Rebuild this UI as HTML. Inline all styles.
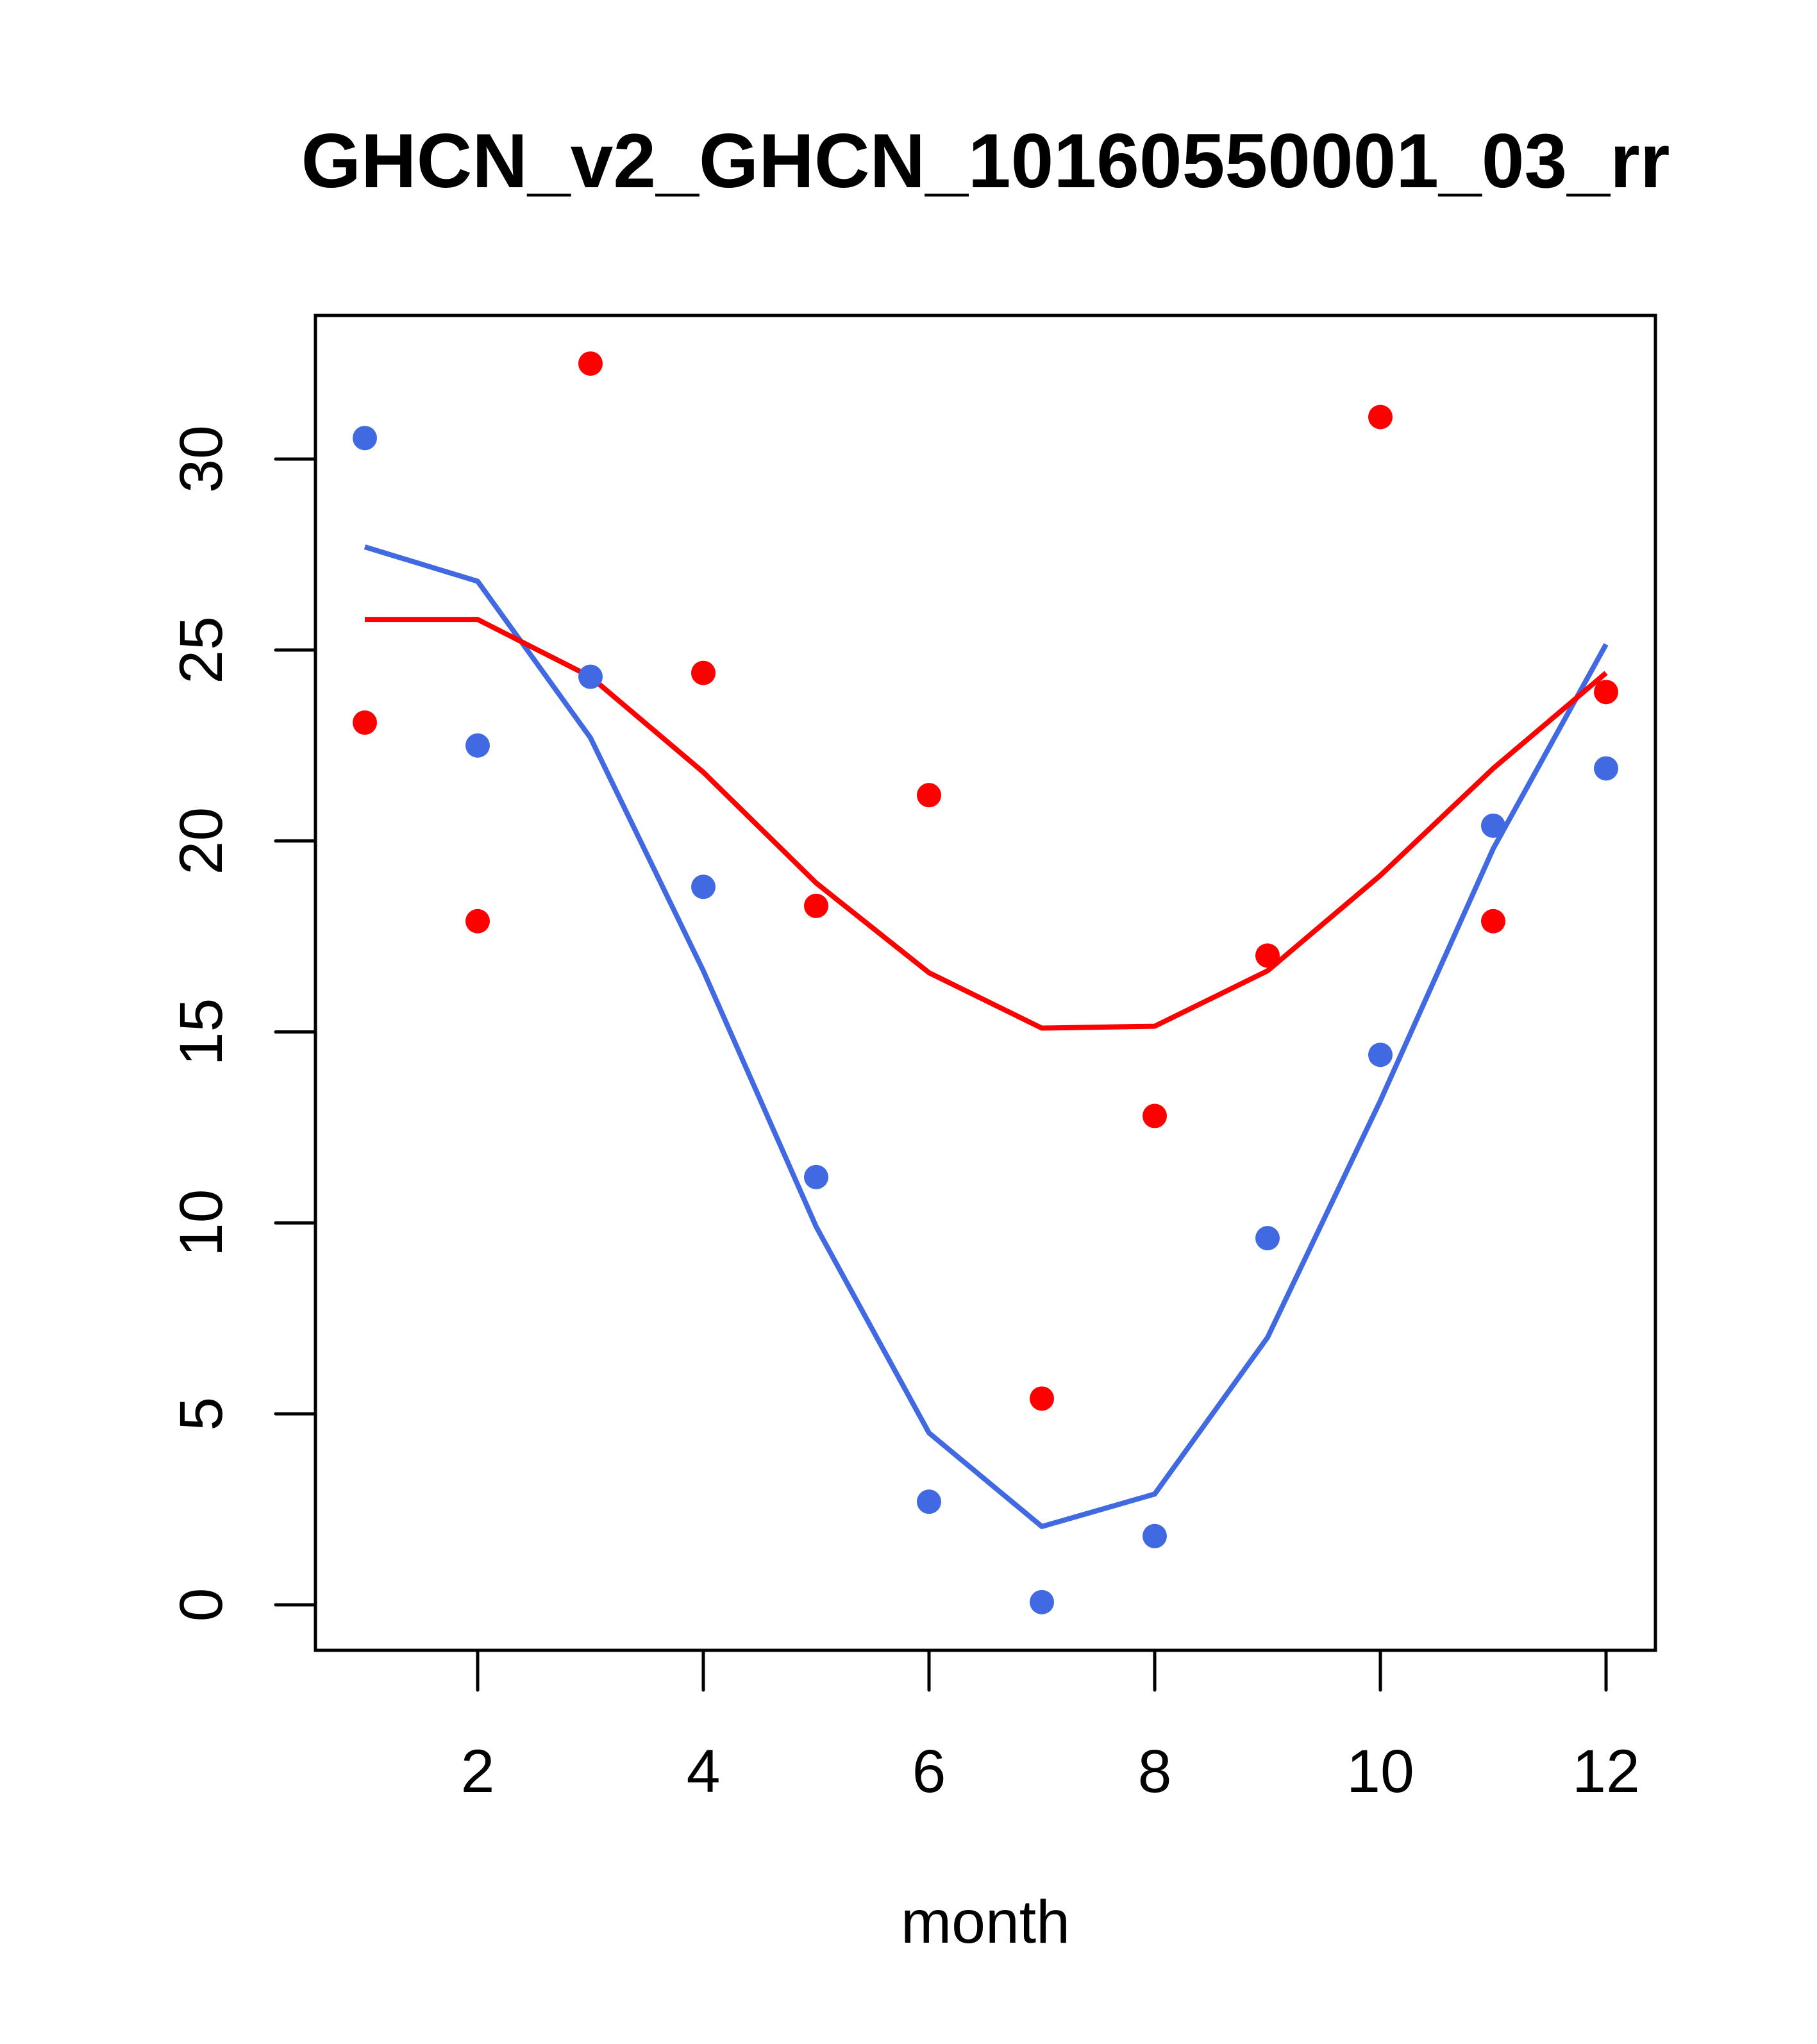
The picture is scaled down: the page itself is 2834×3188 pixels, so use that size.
<!DOCTYPE html>
<html><head><meta charset="utf-8"><style>html,body{margin:0;padding:0;background:#fff}svg{display:block}</style></head>
<body>
<svg id="chart" xmlns="http://www.w3.org/2000/svg" width="2834" height="3188" viewBox="0 0 2834 3188" font-family="Liberation Sans, sans-serif">
<rect width="2834" height="3188" fill="#fff"/>
<text x="1537" y="292" font-size="120" font-weight="bold" text-anchor="middle">GHCN_v2_GHCN_10160550001_03_rr</text>
<rect x="492" y="492" width="2090" height="2082" fill="none" stroke="#000" stroke-width="5"/>
<g id="axes"></g>
<g id="series"></g>
<text x="1537" y="3030" font-size="95" text-anchor="middle">month</text>
</svg>
<script>
const months=[1,2,3,4,5,6,7,8,9,10,11,12];
const bluePoints=[30.55,22.5,24.3,18.8,11.2,2.7,0.07,1.8,9.6,14.4,20.4,21.9];
const redPoints=[23.1,17.9,32.5,24.4,18.3,21.2,5.4,12.8,17.0,31.1,17.9,23.9];
const blueLine=[27.7,26.8,22.7,16.6,9.9,4.5,2.05,2.9,7.0,13.2,19.8,25.15];
const redLine=[25.8,25.8,24.3,21.8,18.9,16.55,15.1,15.15,16.6,19.1,21.9,24.4];
const xTicks=[2,4,6,8,10,12];
const yTicks=[0,5,10,15,20,25,30];
const NS='http://www.w3.org/2000/svg';
function X(m){return 569+(m-1)*(2505-569)/11;}
function Y(v){return 2503-v*(2503-716)/30;}
function mk(tag,attrs,parent){const e=document.createElementNS(NS,tag);for(const k in attrs)e.setAttribute(k,attrs[k]);parent.appendChild(e);return e;}
const axes=document.getElementById('axes');
xTicks.forEach(t=>{
  const l=mk('line',{x1:X(t),x2:X(t),y1:2574,y2:2636,stroke:'#000','stroke-width':5,'stroke-linecap':'round'},axes);
  
  
  const tx=mk('text',{x:X(t),y:2795,'font-size':95,'text-anchor':'middle'},axes);
  tx.textContent=t;
  
  
});
yTicks.forEach(t=>{
  const l=mk('line',{x1:430,x2:492,y1:Y(t),y2:Y(t),stroke:'#000','stroke-width':5,'stroke-linecap':'round'},axes);
  
  
  const tx=mk('text',{x:0,y:0,'font-size':95,'text-anchor':'middle',transform:`translate(346,${Y(t)}) rotate(-90)`},axes);
  tx.textContent=t;
  
  
});
const s=document.getElementById('series');
function line(vals,color,name){
  const p=mk('polyline',{points:vals.map((v,i)=>X(months[i])+','+Y(v)).join(' '),fill:'none',stroke:color,'stroke-width':8,'stroke-linejoin':'round'},s);
  
  
}
function pts(vals,color,name){
  vals.forEach((v,i)=>{
    const c=mk('circle',{cx:X(months[i]),cy:Y(v),r:19,fill:color},s);
    
    
  });
}
line(blueLine,'#4169E1','blue-line');
line(redLine,'#FF0000','red-line');
pts(bluePoints,'#4169E1','blue-point');
pts(redPoints,'#FF0000','red-point');
</script>
</body></html>
